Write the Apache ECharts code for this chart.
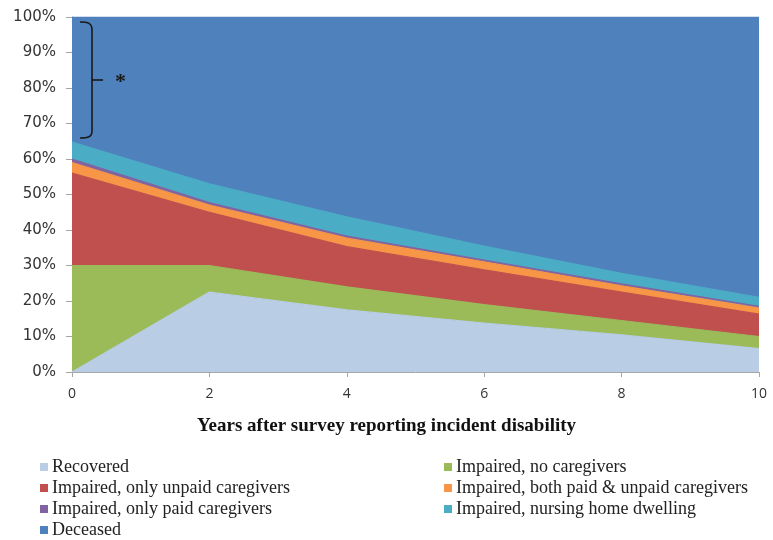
<!DOCTYPE html>
<html>
<head>
<meta charset="UTF-8" />
<title>Disability outcomes</title>
<script src="https://cdn.jsdelivr.net/npm/echarts@6/dist/echarts.min.js"></script>
<style>
  html, body { margin: 0; padding: 0; background: #ffffff; }
  #main { width: 773px; height: 540px; }
</style>
</head>
<body>
<div id="main"></div>
<script type="text/javascript">
// years after survey
var years = ['0', '2', '4', '6', '8', '10'];

// share of people in each state (%), stacked bottom to top
var recovered     = [0, 22.5, 17.5, 13.8, 10.5, 6.6];
var noCare        = [30, 7.5, 6.5, 5.2, 4.0, 3.4];
var unpaidOnly    = [26, 15.0, 11.3, 9.8, 8.0, 6.3];
var paidAndUnpaid = [3.0, 2.0, 2.4, 2.2, 1.8, 1.7];
var paidOnly      = [1.0, 0.7, 0.6, 0.5, 0.5, 0.5];
var nursingHome   = [4.8, 5.3, 5.4, 4.0, 3.0, 2.5];
var deceased      = [35.2, 47.0, 56.3, 64.5, 72.2, 79.0];

var names = [
    'Recovered',
    'Impaired, no caregivers',
    'Impaired, only unpaid caregivers',
    'Impaired, both paid & unpaid caregivers',
    'Impaired, only paid caregivers',
    'Impaired, nursing home dwelling',
    'Deceased'
];
var values = [recovered, noCare, unpaidOnly, paidAndUnpaid, paidOnly, nursingHome, deceased];
var colors = ['#b9cde5', '#9bbb59', '#c0504d', '#f79646', '#8064a2', '#4bacc6', '#4f81bd'];

var serif = 'Liberation Serif';

var series = [];
for (var i = 0; i < names.length; i++) {
    series.push({
        name: names[i],
        type: 'line',
        stack: 'all',
        data: values[i],
        symbol: 'none',
        lineStyle: { width: 1.2, color: colors[i] },
        areaStyle: { color: colors[i], opacity: 1 },
        itemStyle: { color: colors[i] },
        z: 2
    });
}

var legendCommon = {
    orient: 'vertical',
    top: 458,
    padding: 0,
    height: 90,
    itemWidth: 8,
    itemHeight: 8,
    itemGap: 3,
    icon: 'rect',
    textStyle: { fontFamily: serif, fontSize: 18, color: '#222', padding: [0, 0, 0, -1] }
};

// the brace + asterisk in the top left corner
var braceStyle = { stroke: '#1a1a1a', lineWidth: 1.6, fill: null };
var brace = [
    { type: 'bezierCurve', shape: { x1: 80, y1: 22, x2: 92, y2: 30, cpx1: 88, cpy1: 22, cpx2: 92, cpy2: 23 } },
    { type: 'line', shape: { x1: 92, y1: 30, x2: 92, y2: 131 } },
    { type: 'line', shape: { x1: 92, y1: 80, x2: 103, y2: 80 } },
    { type: 'bezierCurve', shape: { x1: 92, y1: 131, x2: 80, y2: 138, cpx1: 92, cpy1: 137, cpx2: 88, cpy2: 138 } }
];
brace.forEach(function (b) { b.style = braceStyle; b.z = 10; });
brace.push({
    type: 'text',
    z: 10,
    left: 115,
    top: 71,
    style: { text: '*', font: 'bold 22px ' + serif, fill: '#1a1a1a' }
});

var myChart = echarts.init(document.getElementById('main'));
var option = {
    backgroundColor: '#ffffff',
    animation: false,
    title: {
        text: 'Years after survey reporting incident disability',
        left: 'center',
        top: 417,
        padding: 0,
        textStyle: { fontFamily: serif, fontWeight: 'bold', fontSize: 19, color: '#111' }
    },
    // plot background set to the band colour so thin-band seams don't show white
    grid: { left: 72, right: 14, top: 17, bottom: 168, show: true, borderWidth: 0, backgroundColor: '#6f7fb4' },
    legend: [
        Object.assign({}, legendCommon, { left: 40, data: [names[0], names[2], names[4], names[6]] }),
        Object.assign({}, legendCommon, { left: 444, data: [names[1], names[3], names[5]] })
    ],
    xAxis: {
        type: 'category',
        data: years,
        boundaryGap: false,
        axisLine: { lineStyle: { color: '#a6a6a6' } },
        axisTick: { length: 5, lineStyle: { color: '#a6a6a6' } },
        axisLabel: { margin: 15, fontFamily: 'Open Sans', fontSize: 14, color: '#333' }
    },
    yAxis: {
        type: 'value',
        min: 0,
        max: 100,
        interval: 10,
        axisLine: { show: true, lineStyle: { color: '#a6a6a6' } },
        axisTick: { show: true, length: 6, lineStyle: { color: '#a6a6a6' } },
        splitLine: { show: false },
        axisLabel: { margin: 16, fontFamily: 'DejaVu Sans', fontSize: 15, color: '#333', formatter: '{value}%' }
    },
    graphic: brace,
    series: series
};
myChart.setOption(option);
</script>
</body>
</html>
